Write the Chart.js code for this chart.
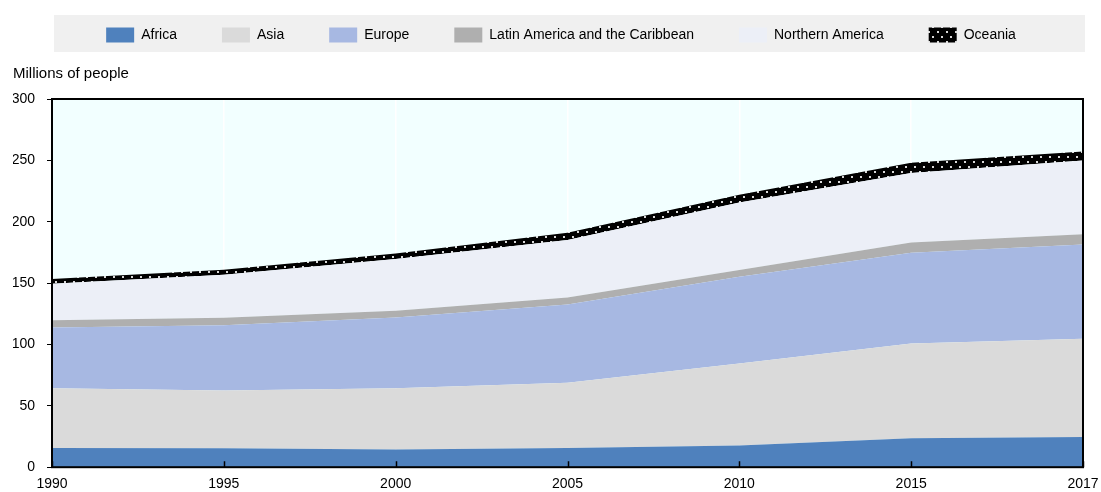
<!DOCTYPE html>
<html>
<head>
<meta charset="utf-8">
<script src="https://cdn.jsdelivr.net/npm/chart.js@4.4.1/dist/chart.umd.min.js"></script>
<style>
html,body{margin:0;padding:0;background:#ffffff;}
#wrap{width:1101px;height:492px;position:relative;}
</style>
</head>
<body>
<div id="wrap"><canvas id="c" width="1101" height="492"></canvas></div>
<script>
// ---- Data ----
const categories = ['1990', '1995', '2000', '2005', '2010', '2015', '2017'];
const africa = [15.7, 15.5, 14.5, 15.6, 17.6, 23.5, 24.6];
const asia = [48.7, 47.0, 49.8, 53.2, 66.8, 77.2, 80.0];
const europe = [49.4, 53.2, 57.6, 63.8, 70.8, 74.1, 76.9];
const latinAmerica = [6.0, 6.0, 5.5, 5.7, 5.4, 8.2, 8.2];
const northernAmerica = [29.6, 35.1, 42.2, 46.8, 55.0, 56.7, 60.2];
const oceania = [4.0, 4.0, 4.5, 6.0, 6.3, 8.3, 7.4];
const yTicks = [0, 50, 100, 150, 200, 250, 300];
const seriesNames = ['Africa', 'Asia', 'Europe', 'Latin America and the Caribbean', 'Northern America', 'Oceania'];
const yTitle = 'Millions of people';

// ---- Styles ----
function makeDotPattern() {
  const c = document.createElement('canvas');
  c.width = 9; c.height = 10;
  const g = c.getContext('2d');
  g.fillStyle = '#000000';
  g.fillRect(0, 0, 9, 10);
  g.fillStyle = '#d9d9d9';
  g.fillRect(1, 1, 2, 2);
  g.fillRect(5, 6, 2, 2);
  return g.createPattern(c, 'repeat');
}
const colors = ['#4f81bd', '#dadada', '#a7b8e2', '#afafaf', '#eceff7', makeDotPattern()];
const seriesData = [africa, asia, europe, latinAmerica, northernAmerica, oceania];

Chart.defaults.font.family = "'Liberation Sans', Arial, sans-serif";
Chart.defaults.font.size = 14;
Chart.defaults.color = '#000000';

const datasets = seriesData.map((d, i) => ({
  label: seriesNames[i],
  data: d,
  backgroundColor: colors[i],
  borderColor: 'rgba(0,0,0,0)',
  borderWidth: 0,
  pointRadius: 0,
  pointHoverRadius: 0,
  tension: 0,
  fill: i === 0 ? 'origin' : '-1'
}));

const decor = {
  id: 'decor',
  afterLayout(chart) {
    const lg = chart.legend;
    if (lg) { lg.left += 13; lg.right += 13; lg.top += 1.5; lg.bottom += 1.5; }
  },
  beforeDraw(chart) {
    const ctx = chart.ctx, a = chart.chartArea;
    ctx.save();
    ctx.fillStyle = '#f0f0f0';
    ctx.fillRect(a.left + 2, 15, a.right - a.left, 37);
    ctx.fillStyle = '#f2ffff';
    ctx.fillRect(a.left, a.top, a.right - a.left, a.bottom - a.top);
    ctx.restore();
  },
  afterDatasetsDraw(chart) {
    const ctx = chart.ctx, a = chart.chartArea, xs = chart.scales.x;
    ctx.save();
    ctx.strokeStyle = '#000000';
    ctx.lineWidth = 2;
    ctx.strokeRect(a.left, a.top, a.right - a.left, a.bottom - a.top);
    ctx.lineWidth = 1.5;
    ctx.beginPath();
    xs.ticks.forEach((t, i) => {
      const x = Math.round(xs.getPixelForTick(i)) + 0.5;
      ctx.moveTo(x, a.bottom);
      ctx.lineTo(x, a.bottom - 6);
    });
    ctx.stroke();
    ctx.restore();
  }
};

new Chart(document.getElementById('c'), {
  type: 'line',
  data: { labels: categories, datasets: datasets },
  options: {
    responsive: false,
    animation: false,
    devicePixelRatio: 1,
    events: [],
    layout: { padding: { top: -19, left: 13, right: 18, bottom: -10 } },
    plugins: {
      tooltip: { enabled: false },
      legend: {
        display: true,
        position: 'top',
        labels: {
          boxWidth: 28,
          boxHeight: 15,
          padding: 45,
          color: '#000000',
          font: { size: 14 }
        }
      },
      title: {
        display: true,
        text: yTitle,
        align: 'start',
        weight: 500,
        color: '#000000',
        font: { size: 15, weight: 'normal' },
        padding: { top: 14, bottom: 16 }
      }
    },
    scales: {
      x: {
        type: 'category',
        offset: false,
        afterFit(scale) { scale.paddingLeft = 0; scale.paddingRight = 0; },
        grid: { display: true, drawOnChartArea: true, drawTicks: false, color: '#ffffff', lineWidth: 1.5 },
        border: { display: true, color: '#000000', width: 2 },
        ticks: { padding: 9, maxRotation: 0, autoSkip: false, color: '#000000', font: { size: 14 } }
      },
      y: {
        stacked: true,
        min: 0,
        max: 300,
        afterBuildTicks(scale) { scale.ticks = yTicks.map(v => ({ value: v })); },
        afterFit(scale) { scale.width = 39; scale.paddingTop = 0; scale.paddingBottom = 0; },
        grid: { display: true, drawOnChartArea: false, drawTicks: true, tickLength: 5, color: '#000000', lineWidth: 1 },
        border: { display: true, color: '#000000', width: 2 },
        ticks: { padding: 12, color: '#000000', font: { size: 14 } }
      }
    }
  },
  plugins: [decor]
});
</script>
</body>
</html>
